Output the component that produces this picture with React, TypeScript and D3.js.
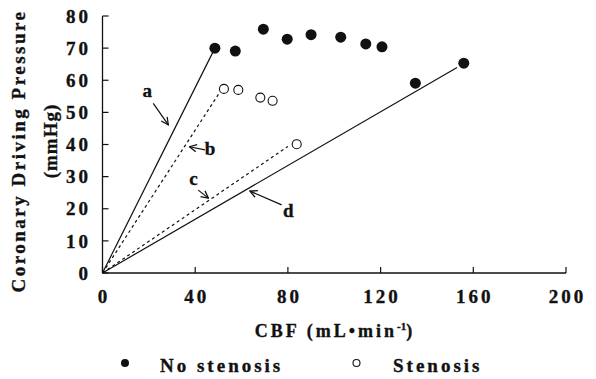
import * as d3 from 'd3';

// No stenosis (filled)
const noStenosisCBF = [48.5, 57.3, 69.4, 79.7, 90, 102.8, 113.6, 120.6, 135, 155.9];
const noStenosisPressure = [70, 69.1, 75.9, 72.8, 74.2, 73.4, 71.3, 70.4, 59.1, 65.3];

// Stenosis (open)
const stenosisCBF = [52.4, 58.6, 68.1, 73.4, 83.8];
const stenosisPressure = [57.3, 57, 54.6, 53.6, 40.1];

// lines from origin
const lineNames = ['a', 'b', 'c', 'd'];
const lineEndX = [48.5, 50, 80, 153];
const lineEndY = [70, 55.6, 39.4, 64];
const lineDashed = [false, true, true, false];

// arrow annotations (data coords)
const arrowFrom = [[21.9, 52.8], [44.2, 38.3], [41.3, 25.8], [77.3, 21.2]];
const arrowTo = [[28.4, 46.1], [37.5, 39.3], [45.7, 23.3], [63.6, 25.5]];
const labelPos = [[19.3, 54.9], [46.4, 36.7], [39.2, 27.4], [80.2, 17.5]];

const xTicks = [0, 40, 80, 120, 160, 200];
const yTicks = [0, 10, 20, 30, 40, 50, 60, 70, 80];

const W = 596;
const H = 379;
const font = '"Liberation Serif", "Times New Roman", serif';
const ink = '#111';
const ls = 3; // wide letter spacing of the scanned figure

export default function App() {
  const x = d3.scaleLinear().domain([0, 200]).range([102.5, 566]);
  const y = d3.scaleLinear().domain([0, 80]).range([273, 16]);
  const line = d3.line<[number, number]>().x((d) => x(d[0])).y((d) => y(d[1]));

  return (
    <svg
      width={W}
      height={H}
      style={{ position: 'absolute', left: 0, top: 0, background: '#fff' }}
      fontFamily={font}
      fontWeight="bold"
    >
      <defs>
        <marker
          id="arr"
          viewBox="0 0 10 10"
          refX={9}
          refY={5}
          markerWidth={9}
          markerHeight={9}
          markerUnits="userSpaceOnUse"
          orient="auto"
        >
          <path d="M1,1 L9,5 L1,9" fill="none" stroke={ink} strokeWidth={1.4} />
        </marker>
      </defs>

      <g fill={ink} stroke={ink} strokeWidth={0.35}>
        {/* axis titles */}
        <text transform="translate(25,151) rotate(-90)" textAnchor="middle" fontSize={19} letterSpacing={2.5}>
          Coronary Driving Pressure
        </text>
        <text transform="translate(57,141) rotate(-90)" textAnchor="middle" fontSize={19} letterSpacing={1}>
          (mmHg)
        </text>
        <text x={335} y={337} textAnchor="middle" fontSize={18} letterSpacing={ls}>
          CBF (mL•min
          <tspan fontSize={11} dy={-7} letterSpacing={0}>-1</tspan>
          <tspan dy={7}>)</tspan>
        </text>

        {/* tick labels */}
        {yTicks.map((t) => (
          <text key={'yl' + t} x={88 + ls} y={y(t)} dy="0.35em" textAnchor="end" fontSize={19} letterSpacing={ls}>
            {t}
          </text>
        ))}
        {xTicks.map((t) => (
          <text key={'xl' + t} x={x(t) + ls / 2} y={303} textAnchor="middle" fontSize={19} letterSpacing={ls}>
            {t}
          </text>
        ))}

        {/* line labels */}
        {lineNames.map((n, i) => (
          <text key={'t' + n} x={x(labelPos[i][0])} y={y(labelPos[i][1])} textAnchor="middle" fontSize={19}>
            {n}
          </text>
        ))}

        {/* legend text */}
        <text x={160} y={372} fontSize={19} letterSpacing={ls}>No stenosis</text>
        <text x={393} y={372} fontSize={19} letterSpacing={ls}>Stenosis</text>
      </g>

      {/* axes */}
      <line x1={x(0)} x2={x(0)} y1={y(0)} y2={y(80)} stroke={ink} strokeWidth={1.3} />
      <line x1={x(0)} x2={x(200)} y1={y(0)} y2={y(0)} stroke={ink} strokeWidth={1.3} />
      {yTicks.map((t) => (
        <line key={'yt' + t} x1={x(0)} x2={x(0) + 6} y1={y(t)} y2={y(t)} stroke={ink} strokeWidth={1.2} />
      ))}
      {xTicks.map((t) => (
        <line key={'xt' + t} x1={x(t)} x2={x(t)} y1={y(0)} y2={y(0) - 6} stroke={ink} strokeWidth={1.2} />
      ))}

      {/* lines through origin */}
      {lineNames.map((n, i) => (
        <path
          key={'l' + n}
          d={line([[0, 0], [lineEndX[i], lineEndY[i]]]) ?? ''}
          fill="none"
          stroke={ink}
          strokeWidth={1.2}
          strokeDasharray={lineDashed[i] ? '3,3' : undefined}
        />
      ))}

      {/* arrows */}
      {lineNames.map((n, i) => (
        <line
          key={'a' + n}
          x1={x(arrowFrom[i][0])}
          y1={y(arrowFrom[i][1])}
          x2={x(arrowTo[i][0])}
          y2={y(arrowTo[i][1])}
          stroke={ink}
          strokeWidth={1.2}
          markerEnd="url(#arr)"
        />
      ))}

      {/* points */}
      {noStenosisCBF.map((v, i) => (
        <circle key={'f' + i} cx={x(v)} cy={y(noStenosisPressure[i])} r={5.5} fill={ink} />
      ))}
      {stenosisCBF.map((v, i) => (
        <circle
          key={'o' + i}
          cx={x(v)}
          cy={y(stenosisPressure[i])}
          r={4.5}
          fill="#fff"
          stroke={ink}
          strokeWidth={1.1}
        />
      ))}

      {/* legend markers */}
      <circle cx={125} cy={363} r={4} fill={ink} />
      <circle cx={356.5} cy={363} r={3.5} fill="#fff" stroke={ink} strokeWidth={1.1} />
    </svg>
  );
}
